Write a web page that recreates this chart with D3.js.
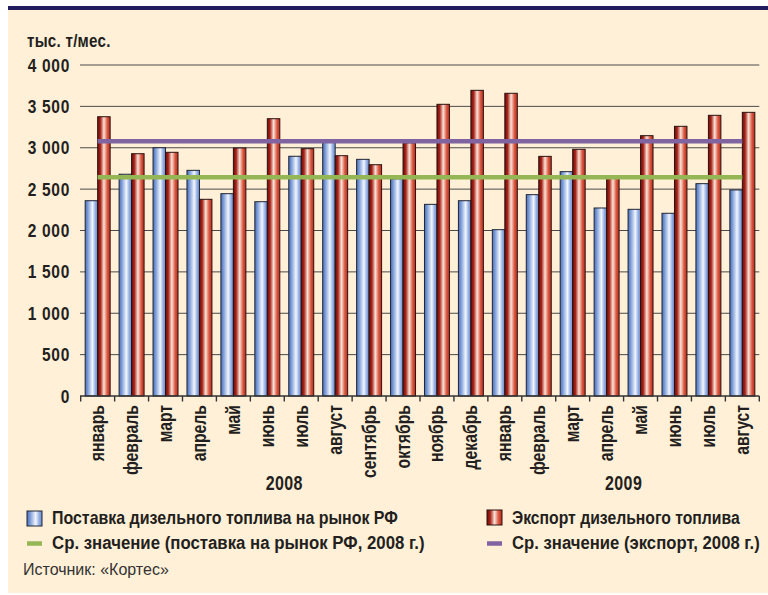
<!DOCTYPE html>
<html>
<head>
<meta charset="utf-8">
<script src="https://cdn.jsdelivr.net/npm/d3@7/dist/d3.min.js"></script>
<style>
  html, body { margin: 0; padding: 0; background: #ffffff; }
  svg { display: block; }
  .cond { font-family: "Liberation Sans", Arial, sans-serif; font-weight: bold; fill: #231f20; }
</style>
</head>
<body>
<svg id="chart" width="768" height="595"></svg>
<script>
// ---------- DATA ----------
const months = ["январь","февраль","март","апрель","май","июнь","июль","август","сентябрь","октябрь","ноябрь","декабрь",
                "январь","февраль","март","апрель","май","июнь","июль","август"];
const years = [{label: "2008", from: 0, to: 11}, {label: "2009", from: 12, to: 19}];
const supplyRF = [2360, 2680, 3000, 2727, 2445, 2348, 2897, 3066, 2860, 2625, 2316, 2360,
                  2010, 2433, 2711, 2272, 2256, 2208, 2566, 2490];
const exportDT = [3375, 2928, 2945, 2377, 2997, 3351, 2989, 2904, 2795, 3060, 3525, 3694,
                  3658, 2896, 2981, 2635, 3146, 3259, 3392, 3428];
const avgSupply2008 = 2645;
const avgExport2008 = 3080;
const yTicks = [0, 500, 1000, 1500, 2000, 2500, 3000, 3500, 4000];
const seriesNames = ["Поставка дизельного топлива на рынок РФ", "Экспорт дизельного топлива"];
const avgNames = ["Ср. значение (поставка на рынок РФ, 2008 г.)", "Ср. значение (экспорт, 2008 г.)"];
const unitLabel = "тыс. т/мес.";
const sourceLabel = "Источник: «Кортес»";

// ---------- SETUP ----------
const svg = d3.select("#chart");
const W = 768, H = 595;
const pLeft = 80.7, pRight = 759.3, pTop = 65, pBottom = 396;

const defs = svg.append("defs");
function grad(id, stops) {
  const g = defs.append("linearGradient").attr("id", id).attr("x1", "0%").attr("x2", "100%").attr("y1", "0%").attr("y2", "0%");
  stops.forEach(s => g.append("stop").attr("offset", s[0]).attr("stop-color", s[1]));
}
grad("gBlue", [["0%", "#4d70b8"], ["18%", "#7395d4"], ["58%", "#f2f6fd"], ["82%", "#91ade2"], ["100%", "#6a8dcf"]]);
grad("gRed", [["0%", "#6e0c08"], ["22%", "#a8241a"], ["50%", "#fbe3d8"], ["78%", "#d9543d"], ["100%", "#b3301f"]]);

// background
svg.append("rect").attr("x", 0).attr("y", 0).attr("width", W).attr("height", H).attr("fill", "#ffffff");
svg.append("rect").attr("x", 8).attr("y", 10).attr("width", W - 8).attr("height", 583).attr("fill", "#fff0d7");
svg.append("rect").attr("x", 8).attr("y", 6).attr("width", W - 8).attr("height", 4).attr("fill", "#221d5e");

// scales
const x0 = d3.scaleBand().domain(d3.range(months.length)).range([pLeft, pRight]).paddingInner(0.264).paddingOuter(0.132);
const x1 = d3.scaleBand().domain([0, 1]).range([0, x0.bandwidth()]);
const y = d3.scaleLinear().domain([0, 4000]).range([pBottom, pTop]);
const fmt = v => d3.format(",")(v).replace(/,/g, " ");

// gridlines
svg.append("g").selectAll("line").data(yTicks.filter(d => d > 0)).join("line")
  .attr("x1", 80).attr("x2", pRight).attr("y1", d => y(d)).attr("y2", d => y(d))
  .attr("stroke", "#4a4a4a").attr("stroke-width", 1);

// y labels
svg.append("g").selectAll("text").data(yTicks).join("text")
  .attr("class", "cond")
  .attr("transform", d => `translate(70,${y(d) + 6.6}) scale(0.84,1)`)
  .attr("text-anchor", "end")
  .style("font-size", "18.5px").style("letter-spacing", "0.8px")
  .text(d => fmt(d));

svg.append("text").attr("class", "cond")
  .attr("transform", "translate(27,46.7) scale(0.82,1)")
  .style("font-size", "18.5px").style("letter-spacing", "0.3px").text(unitLabel);

// bars
const groups = svg.append("g").selectAll("g").data(months.map((m, i) => i)).join("g")
  .attr("transform", i => `translate(${x0(i)},0)`);
groups.append("rect")
  .attr("x", x1(0)).attr("width", x1.bandwidth())
  .attr("y", i => y(supplyRF[i])).attr("height", i => y(0) - y(supplyRF[i]))
  .attr("fill", "url(#gBlue)").attr("stroke", "#1f2535").attr("stroke-width", 1);
groups.append("rect")
  .attr("x", x1(1)).attr("width", x1.bandwidth())
  .attr("y", i => y(exportDT[i])).attr("height", i => y(0) - y(exportDT[i]))
  .attr("fill", "url(#gRed)").attr("stroke", "#2a1210").attr("stroke-width", 1);

// x axis line and ticks
svg.append("line").attr("x1", 80).attr("x2", pRight).attr("y1", y(0)).attr("y2", y(0))
  .attr("stroke", "#333333").attr("stroke-width", 1.6);
const bounds = d3.range(months.length + 1).map(i => pLeft + i * x0.step());
svg.append("g").selectAll("line").data(bounds).join("line")
  .attr("x1", d => d).attr("x2", d => d).attr("y1", y(0)).attr("y2", y(0) + 5.5)
  .attr("stroke", "#333333").attr("stroke-width", 1.4);

// average lines
const cFirst = x0(0) + x0.bandwidth() / 2, cLast = x0(months.length - 1) + x0.bandwidth() / 2;
svg.append("line").attr("x1", cFirst).attr("x2", cLast).attr("y1", y(avgExport2008)).attr("y2", y(avgExport2008))
  .attr("stroke", "#8064a2").attr("stroke-width", 4.5);
svg.append("line").attr("x1", cFirst).attr("x2", cLast).attr("y1", y(avgSupply2008)).attr("y2", y(avgSupply2008))
  .attr("stroke", "#94b655").attr("stroke-width", 4.5);

// month labels
svg.append("g").selectAll("text").data(months.map((m, i) => i)).join("text")
  .attr("class", "cond")
  .attr("transform", i => `translate(${x0(i) + x0.bandwidth() / 2 + 6.5},405) rotate(-90) scale(0.75,1)`)
  .attr("text-anchor", "end")
  .style("font-size", "21px")
  .text(i => months[i]);

// year labels
svg.append("g").selectAll("text").data(years).join("text")
  .attr("class", "cond")
  .attr("transform", d => `translate(${(x0(d.from) + x0(d.to) + x0.bandwidth()) / 2},490) scale(0.8,1)`)
  .attr("text-anchor", "middle")
  .style("font-size", "20px").style("letter-spacing", "0.5px")
  .text(d => d.label);

// legend
const legend = svg.append("g");
const legItems = [
  {type: "rect", fill: "url(#gBlue)", stroke: "#1f2535", x: 27, yRow: 511, text: seriesNames[0], tx: 52, ty: 524, len: 346},
  {type: "rect", fill: "url(#gRed)", stroke: "#2a1210", x: 487, yRow: 510, text: seriesNames[1], tx: 512, ty: 524, len: 228},
  {type: "line", color: "#94b655", x: 27, yRow: 543.5, text: avgNames[0], tx: 52, ty: 548.5, len: 373},
  {type: "line", color: "#8064a2", x: 487, yRow: 543.5, text: avgNames[1], tx: 512, ty: 548.5, len: 248}
];
legItems.forEach(d => {
  if (d.type === "rect") {
    legend.append("rect").attr("x", d.x).attr("y", d.yRow).attr("width", 15).attr("height", 15)
      .attr("fill", d.fill).attr("stroke", d.stroke).attr("stroke-width", 1);
  } else {
    legend.append("line").attr("x1", d.x).attr("x2", d.x + 15).attr("y1", d.yRow).attr("y2", d.yRow)
      .attr("stroke", d.color).attr("stroke-width", 4.5);
  }
  const t = legend.append("text").attr("class", "cond")
    .style("font-size", "18.5px")
    .text(d.text);
  const natural = t.node().getComputedTextLength() || d.len;
  t.attr("transform", `translate(${d.tx},${d.ty}) scale(${d.len / natural},1)`);
});

// source
svg.append("text").attr("x", 23).attr("y", 575)
  .style("font-family", "'Liberation Sans', Arial, sans-serif").style("font-size", "16px")
  .attr("fill", "#333333").text(sourceLabel);
</script>
</body>
</html>
